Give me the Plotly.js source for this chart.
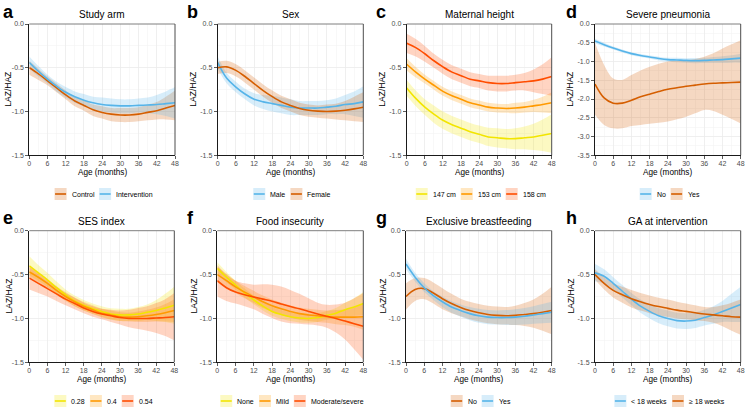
<!DOCTYPE html>
<html><head><meta charset="utf-8">
<script src="https://cdn.plot.ly/plotly-3.0.1.min.js"></script>
<style>html,body{margin:0;padding:0;background:#fff}#chart{width:747px;height:410px}</style>
</head><body><div id="chart"></div>
<script>
// ---------- data ----------
const ageMonths = [0,3,6,9,12,15,18,21,24,27,30,33,36,39,42,45,48];
const xTickVals = [0,6,12,18,24,30,36,42,48];
const xMinorVals = [3,9,15,21,27,33,39,45];
const yTickVals = [0,-0.5,-1,-1.5];
const yTickText = ['0.0','-0.5','-1.0','-1.5'];
const yMinorVals = [-0.25,-0.75,-1.25];
const yTickValsD = [0,-0.5,-1,-1.5,-2,-2.5,-3,-3.5];
const yTickTextD = ['0.0','-0.5','-1.0','-1.5','-2.0','-2.5','-3.0','-3.5'];
const yMinorValsD = [-0.25,-0.75,-1.25,-1.75,-2.25,-2.75,-3.25];

// a Study arm
const armControl   = [-0.50,-0.57,-0.65,-0.73,-0.81,-0.88,-0.93,-0.98,-1.01,-1.03,-1.04,-1.04,-1.03,-1.01,-0.99,-0.96,-0.93];
const armControlHi = [-0.42,-0.51,-0.60,-0.68,-0.76,-0.83,-0.87,-0.92,-0.94,-0.96,-0.96,-0.96,-0.95,-0.92,-0.89,-0.83,-0.76];
const armControlLo = [-0.58,-0.64,-0.70,-0.78,-0.86,-0.94,-0.99,-1.05,-1.08,-1.11,-1.12,-1.12,-1.11,-1.10,-1.09,-1.09,-1.10];
const armInterv    = [-0.44,-0.54,-0.63,-0.71,-0.78,-0.83,-0.87,-0.90,-0.92,-0.93,-0.935,-0.935,-0.93,-0.925,-0.92,-0.91,-0.90];
const armIntervHi  = [-0.37,-0.48,-0.58,-0.66,-0.72,-0.77,-0.80,-0.83,-0.84,-0.85,-0.86,-0.86,-0.85,-0.84,-0.81,-0.77,-0.72];
const armIntervLo  = [-0.51,-0.60,-0.68,-0.77,-0.84,-0.90,-0.94,-0.98,-1.00,-1.01,-1.02,-1.02,-1.01,-1.02,-1.03,-1.05,-1.08];

// b Sex
const sexMale     = [-0.44,-0.62,-0.72,-0.80,-0.86,-0.89,-0.91,-0.93,-0.95,-0.96,-0.96,-0.96,-0.95,-0.94,-0.92,-0.91,-0.89];
const sexMaleHi   = [-0.37,-0.56,-0.66,-0.74,-0.79,-0.81,-0.82,-0.84,-0.86,-0.88,-0.88,-0.88,-0.87,-0.85,-0.81,-0.77,-0.71];
const sexMaleLo   = [-0.51,-0.68,-0.78,-0.86,-0.93,-0.97,-1.00,-1.02,-1.04,-1.04,-1.04,-1.04,-1.03,-1.03,-1.03,-1.05,-1.07];
const sexFemale   = [-0.50,-0.49,-0.53,-0.60,-0.68,-0.76,-0.83,-0.89,-0.93,-0.965,-0.985,-0.995,-1.00,-0.995,-0.985,-0.97,-0.95];
const sexFemaleHi = [-0.43,-0.42,-0.46,-0.53,-0.61,-0.69,-0.76,-0.82,-0.86,-0.90,-0.92,-0.93,-0.92,-0.91,-0.88,-0.83,-0.78];
const sexFemaleLo = [-0.57,-0.56,-0.60,-0.67,-0.75,-0.83,-0.90,-0.96,-1.00,-1.04,-1.06,-1.07,-1.08,-1.09,-1.10,-1.11,-1.12];

// c Maternal height
const ht147   = [-0.73,-0.85,-0.95,-1.03,-1.10,-1.15,-1.19,-1.23,-1.26,-1.29,-1.30,-1.31,-1.31,-1.30,-1.29,-1.27,-1.25];
const ht147Hi = [-0.64,-0.76,-0.86,-0.93,-1.00,-1.05,-1.09,-1.13,-1.16,-1.185,-1.19,-1.20,-1.19,-1.17,-1.14,-1.09,-1.03];
const ht147Lo = [-0.82,-0.94,-1.04,-1.13,-1.20,-1.25,-1.29,-1.33,-1.36,-1.395,-1.41,-1.42,-1.43,-1.43,-1.44,-1.45,-1.47];
const ht153   = [-0.46,-0.55,-0.63,-0.70,-0.77,-0.82,-0.86,-0.90,-0.925,-0.95,-0.96,-0.965,-0.96,-0.95,-0.935,-0.92,-0.90];
const ht153Hi = [-0.39,-0.49,-0.58,-0.65,-0.72,-0.77,-0.81,-0.85,-0.875,-0.90,-0.91,-0.915,-0.90,-0.89,-0.865,-0.83,-0.78];
const ht153Lo = [-0.53,-0.61,-0.68,-0.75,-0.82,-0.87,-0.91,-0.95,-0.975,-1.00,-1.01,-1.015,-1.02,-1.01,-1.005,-1.01,-1.02];
const ht158   = [-0.22,-0.27,-0.34,-0.42,-0.49,-0.55,-0.59,-0.63,-0.65,-0.67,-0.68,-0.68,-0.67,-0.66,-0.65,-0.63,-0.60];
const ht158Hi = [-0.11,-0.17,-0.25,-0.34,-0.41,-0.47,-0.51,-0.55,-0.57,-0.59,-0.59,-0.59,-0.58,-0.56,-0.52,-0.46,-0.38];
const ht158Lo = [-0.33,-0.37,-0.43,-0.50,-0.57,-0.63,-0.67,-0.71,-0.73,-0.76,-0.77,-0.77,-0.76,-0.76,-0.78,-0.80,-0.82];

// d Severe pneumonia
const pnNo    = [-0.45,-0.55,-0.64,-0.72,-0.79,-0.84,-0.88,-0.92,-0.95,-0.96,-0.97,-0.975,-0.97,-0.96,-0.95,-0.93,-0.91];
const pnNoHi  = [-0.39,-0.50,-0.60,-0.68,-0.75,-0.80,-0.84,-0.87,-0.90,-0.90,-0.91,-0.905,-0.90,-0.88,-0.86,-0.83,-0.79];
const pnNoLo  = [-0.51,-0.60,-0.68,-0.76,-0.83,-0.88,-0.92,-0.97,-1.00,-1.02,-1.03,-1.045,-1.04,-1.04,-1.04,-1.03,-1.03];
const pnYes   = [-1.60,-1.97,-2.11,-2.11,-2.03,-1.94,-1.87,-1.80,-1.74,-1.70,-1.66,-1.63,-1.60,-1.58,-1.57,-1.56,-1.55];
const pnYesHi = [-0.50,-1.09,-1.45,-1.49,-1.36,-1.24,-1.14,-1.06,-1.00,-0.98,-0.96,-0.93,-0.87,-0.78,-0.65,-0.54,-0.43];
const pnYesLo = [-2.42,-2.69,-2.78,-2.78,-2.72,-2.69,-2.66,-2.63,-2.60,-2.54,-2.47,-2.38,-2.29,-2.32,-2.42,-2.53,-2.65];

// e SES index
const ses28   = [-0.40,-0.48,-0.56,-0.65,-0.73,-0.80,-0.85,-0.89,-0.92,-0.95,-0.96,-0.96,-0.95,-0.93,-0.91,-0.88,-0.85];
const ses28Hi = [-0.29,-0.39,-0.48,-0.58,-0.67,-0.74,-0.79,-0.83,-0.86,-0.885,-0.89,-0.89,-0.87,-0.84,-0.79,-0.72,-0.64];
const ses28Lo = [-0.51,-0.57,-0.64,-0.72,-0.79,-0.86,-0.91,-0.95,-0.98,-1.015,-1.03,-1.03,-1.03,-1.02,-1.03,-1.04,-1.06];
const ses40   = [-0.47,-0.53,-0.60,-0.68,-0.75,-0.81,-0.86,-0.90,-0.94,-0.96,-0.98,-0.985,-0.98,-0.97,-0.955,-0.935,-0.91];
const ses40Hi = [-0.40,-0.47,-0.55,-0.63,-0.70,-0.76,-0.81,-0.85,-0.89,-0.91,-0.93,-0.935,-0.92,-0.90,-0.875,-0.835,-0.78];
const ses40Lo = [-0.54,-0.59,-0.65,-0.73,-0.80,-0.86,-0.91,-0.95,-0.99,-1.01,-1.03,-1.035,-1.04,-1.04,-1.035,-1.035,-1.04];
const ses54   = [-0.54,-0.60,-0.66,-0.72,-0.78,-0.83,-0.88,-0.92,-0.95,-0.97,-0.99,-1.00,-1.00,-1.00,-0.995,-0.99,-0.98];
const ses54Hi = [-0.41,-0.49,-0.57,-0.64,-0.71,-0.765,-0.82,-0.86,-0.89,-0.90,-0.91,-0.90,-0.88,-0.86,-0.825,-0.78,-0.71];
const ses54Lo = [-0.67,-0.71,-0.75,-0.80,-0.85,-0.895,-0.94,-0.98,-1.01,-1.04,-1.07,-1.10,-1.12,-1.14,-1.165,-1.20,-1.25];

// f Food insecurity
const fiNone   = [-0.43,-0.53,-0.62,-0.71,-0.79,-0.86,-0.92,-0.955,-0.98,-0.995,-1.00,-0.99,-0.965,-0.94,-0.90,-0.87,-0.83];
const fiNoneHi = [-0.36,-0.47,-0.57,-0.66,-0.74,-0.81,-0.87,-0.905,-0.93,-0.945,-0.95,-0.94,-0.915,-0.88,-0.82,-0.77,-0.70];
const fiNoneLo = [-0.50,-0.59,-0.67,-0.76,-0.84,-0.91,-0.97,-1.005,-1.03,-1.045,-1.05,-1.04,-1.015,-1.00,-0.98,-0.97,-0.96];
const fiMild   = [-0.50,-0.57,-0.64,-0.70,-0.755,-0.81,-0.855,-0.89,-0.92,-0.945,-0.96,-0.97,-0.98,-0.985,-0.985,-0.985,-0.98];
const fiMildHi = [-0.41,-0.49,-0.57,-0.63,-0.685,-0.74,-0.785,-0.82,-0.85,-0.875,-0.89,-0.90,-0.91,-0.905,-0.895,-0.875,-0.83];
const fiMildLo = [-0.59,-0.65,-0.71,-0.77,-0.825,-0.88,-0.925,-0.96,-0.99,-1.015,-1.03,-1.04,-1.05,-1.065,-1.075,-1.095,-1.13];
const fiMod    = [-0.57,-0.65,-0.70,-0.73,-0.755,-0.78,-0.805,-0.835,-0.865,-0.89,-0.92,-0.95,-0.975,-1.00,-1.03,-1.06,-1.09];
const fiModHi  = [-0.39,-0.50,-0.57,-0.60,-0.615,-0.61,-0.615,-0.635,-0.675,-0.72,-0.77,-0.82,-0.845,-0.84,-0.82,-0.77,-0.71];
const fiModLo  = [-0.75,-0.80,-0.83,-0.86,-0.895,-0.95,-0.995,-1.035,-1.055,-1.06,-1.07,-1.08,-1.105,-1.16,-1.24,-1.35,-1.47];

// g Exclusive breastfeeding
const ebfNo    = [-0.75,-0.67,-0.66,-0.71,-0.775,-0.83,-0.875,-0.91,-0.935,-0.955,-0.965,-0.97,-0.965,-0.955,-0.945,-0.93,-0.91];
const ebfNoHi  = [-0.60,-0.54,-0.54,-0.59,-0.655,-0.72,-0.775,-0.81,-0.835,-0.855,-0.865,-0.87,-0.855,-0.825,-0.785,-0.72,-0.64];
const ebfNoLo  = [-0.90,-0.80,-0.78,-0.83,-0.895,-0.94,-0.975,-1.01,-1.035,-1.055,-1.065,-1.07,-1.075,-1.085,-1.105,-1.14,-1.18];
const ebfYes   = [-0.38,-0.53,-0.65,-0.74,-0.81,-0.87,-0.91,-0.945,-0.97,-0.985,-0.99,-0.99,-0.985,-0.975,-0.96,-0.945,-0.93];
const ebfYesHi = [-0.32,-0.48,-0.60,-0.69,-0.75,-0.805,-0.84,-0.87,-0.89,-0.905,-0.91,-0.905,-0.895,-0.88,-0.86,-0.835,-0.81];
const ebfYesLo = [-0.44,-0.58,-0.70,-0.79,-0.87,-0.935,-0.98,-1.02,-1.05,-1.065,-1.07,-1.075,-1.075,-1.07,-1.06,-1.055,-1.05];

// h GA at intervention
const gaLt18   = [-0.48,-0.52,-0.60,-0.69,-0.78,-0.86,-0.92,-0.97,-1.00,-1.025,-1.03,-1.02,-0.99,-0.96,-0.92,-0.88,-0.84];
const gaLt18Hi = [-0.38,-0.44,-0.53,-0.62,-0.71,-0.785,-0.84,-0.885,-0.91,-0.935,-0.94,-0.93,-0.90,-0.86,-0.80,-0.72,-0.64];
const gaLt18Lo = [-0.58,-0.60,-0.67,-0.76,-0.85,-0.935,-1.00,-1.055,-1.09,-1.115,-1.12,-1.11,-1.08,-1.06,-1.04,-1.04,-1.04];
const gaGe18   = [-0.50,-0.60,-0.68,-0.73,-0.775,-0.81,-0.84,-0.865,-0.885,-0.905,-0.92,-0.935,-0.95,-0.96,-0.97,-0.98,-0.985];
const gaGe18Hi = [-0.44,-0.53,-0.60,-0.64,-0.675,-0.71,-0.74,-0.765,-0.785,-0.81,-0.83,-0.85,-0.87,-0.87,-0.85,-0.82,-0.785];
const gaGe18Lo = [-0.56,-0.67,-0.76,-0.82,-0.875,-0.91,-0.94,-0.965,-0.985,-1.00,-1.01,-1.02,-1.03,-1.05,-1.09,-1.14,-1.185];

// ---------- styling ----------
const SKY = '#56B4E9', VERM = '#D55E00', YEL = '#F2E500', ORG = '#FF9A00', RED = '#FF4D00';
const FONT = 'Liberation Sans, Arial, Helvetica, sans-serif';
const W = 747, H = 410;
const ALPHA = 0.24;

const panels = [
  {letter:'a', title:'Study arm', box:[29.3,24,175,155.3], ytx:8, d:false, series:[
    {name:'Control', color:VERM, m:armControl, lo:armControlLo, hi:armControlHi},
    {name:'Intervention', color:SKY, m:armInterv, lo:armIntervLo, hi:armIntervHi}]},
  {letter:'b', title:'Sex', box:[217.7,24,363.3,155.3], ytx:193, d:false, series:[
    {name:'Male', color:SKY, m:sexMale, lo:sexMaleLo, hi:sexMaleHi},
    {name:'Female', color:VERM, m:sexFemale, lo:sexFemaleLo, hi:sexFemaleHi}]},
  {letter:'c', title:'Maternal height', box:[406.7,24,551.7,155.3], ytx:382, d:false, series:[
    {name:'147 cm', color:YEL, m:ht147, lo:ht147Lo, hi:ht147Hi},
    {name:'153 cm', color:ORG, m:ht153, lo:ht153Lo, hi:ht153Hi},
    {name:'158 cm', color:RED, m:ht158, lo:ht158Lo, hi:ht158Hi}]},
  {letter:'d', title:'Severe pneumonia', box:[595,24,740.7,155.3], ytx:570, d:true, series:[
    {name:'No', color:SKY, m:pnNo, lo:pnNoLo, hi:pnNoHi},
    {name:'Yes', color:VERM, m:pnYes, lo:pnYesLo, hi:pnYesHi}]},
  {letter:'e', title:'SES index', box:[29.3,230.7,174.3,362.3], ytx:8, d:false, series:[
    {name:'0.28', color:YEL, m:ses28, lo:ses28Lo, hi:ses28Hi},
    {name:'0.4', color:ORG, m:ses40, lo:ses40Lo, hi:ses40Hi},
    {name:'0.54', color:RED, m:ses54, lo:ses54Lo, hi:ses54Hi}]},
  {letter:'f', title:'Food insecurity', box:[217.3,230.7,363.3,362.3], ytx:193, d:false, series:[
    {name:'None', color:YEL, m:fiNone, lo:fiNoneLo, hi:fiNoneHi},
    {name:'Mild', color:ORG, m:fiMild, lo:fiMildLo, hi:fiMildHi},
    {name:'Moderate/severe', color:RED, m:fiMod, lo:fiModLo, hi:fiModHi}]},
  {letter:'g', title:'Exclusive breastfeeding', box:[406,230.7,551.7,362.3], ytx:382, d:false, series:[
    {name:'No', color:VERM, m:ebfNo, lo:ebfNoLo, hi:ebfNoHi},
    {name:'Yes', color:SKY, m:ebfYes, lo:ebfYesLo, hi:ebfYesHi}]},
  {letter:'h', title:'GA at intervention', box:[595,230.7,740.7,362.3], ytx:570, d:false, series:[
    {name:'< 18 weeks', color:SKY, m:gaLt18, lo:gaLt18Lo, hi:gaLt18Hi},
    {name:'\u2265 18 weeks', color:VERM, m:gaGe18, lo:gaGe18Lo, hi:gaGe18Hi}]}
];

function rgba(hex, a){
  const n = parseInt(hex.slice(1),16);
  return 'rgba('+((n>>16)&255)+','+((n>>8)&255)+','+(n&255)+','+a+')';
}
const px = v => v / W;
const py = v => 1 - v / H;

const ctx = document.createElement('canvas').getContext('2d');
ctx.font = '7px "Liberation Sans"';
const tw = s => ctx.measureText(s).width;

const traces = [], shapes = [], annotations = [];
const layout = {
  width: W, height: H, margin:{l:0,r:0,t:0,b:0},
  paper_bgcolor:'#fff', plot_bgcolor:'#fff', showlegend:false,
  font:{family:FONT, color:'#000'}
};

panels.forEach((p, i) => {
  const s = i === 0 ? '' : String(i+1);
  const xa = 'x' + s, ya = 'y' + s;
  const [l, t, r, b] = p.box;
  p.series.forEach(se => {
    traces.push({x:ageMonths, y:se.hi, xaxis:xa, yaxis:ya, mode:'lines',
      line:{width:0, shape:'spline', smoothing:1}, hoverinfo:'skip', showlegend:false});
    traces.push({x:ageMonths, y:se.lo, xaxis:xa, yaxis:ya, mode:'lines', fill:'tonexty',
      fillcolor:rgba(se.color, ALPHA), line:{width:0, shape:'spline', smoothing:1}, hoverinfo:'skip', showlegend:false});
  });
  p.series.forEach(se => {
    traces.push({x:ageMonths, y:se.m, xaxis:xa, yaxis:ya, mode:'lines', name:se.name,
      line:{color:se.color, width:1.6, shape:'spline', smoothing:1}, showlegend:false});
  });
  const common = {ticks:'outside', ticklen:3, tickwidth:0.8, tickcolor:'#333333',
    tickfont:{size:7, color:'#4D4D4D', family:FONT}, showline:true, linecolor:'#1A1A1A', linewidth:1,
    showgrid:true, gridcolor:'#EBEBEB', gridwidth:0.8, zeroline:false, fixedrange:true};
  layout['xaxis' + s] = Object.assign({}, common, {
    domain:[px(l), px(r)], anchor:ya, range:[0,48], tickmode:'array', tickvals:xTickVals,
    ticktext:xTickVals.map(String), ticklabelstandoff:-2,
    minor:{tickmode:'array', tickvals:xMinorVals, showgrid:true, gridcolor:'#F4F4F4', gridwidth:0.6, ticks:''}
  });
  layout['yaxis' + s] = Object.assign({}, common, {
    domain:[py(b), py(t)], anchor:xa, range:p.d ? [-3.5,0] : [-1.5,0], tickmode:'array',
    tickvals:p.d ? yTickValsD : yTickVals, ticktext:p.d ? yTickTextD : yTickText,
    minor:{tickmode:'array', tickvals:p.d ? yMinorValsD : yMinorVals, showgrid:true, gridcolor:'#F4F4F4', gridwidth:0.6, ticks:''}
  });
  shapes.push({type:'line', xref:'paper', yref:'paper', x0:px(l), x1:px(r), y0:py(t), y1:py(t), line:{color:'#7F7F7F', width:1}});
  shapes.push({type:'line', xref:'paper', yref:'paper', x0:px(r), x1:px(r), y0:py(t), y1:py(b), line:{color:'#4D4D4D', width:1}});
  annotations.push({xref:'paper', yref:'paper', x:px((l+r)/2), y:py(t-9.3), xanchor:'center', yanchor:'middle',
    text:p.title, showarrow:false, borderpad:0, font:{size:10, color:'#000', family:FONT}});
  annotations.push({xref:'paper', yref:'paper', x:px(i%4===0 ? 1.5 : (i%4===3 ? 564.5 : l-31.5)), y:py(t-12.5), xanchor:'left', yanchor:'middle',
    text:'<b>'+p.letter+'</b>', showarrow:false, borderpad:0, font:{size:18, color:'#000', family:FONT}});
  annotations.push({xref:'paper', yref:'paper', x:px(p.ytx), y:py((t+b)/2), xanchor:'center', yanchor:'middle',
    text:'LAZ/HAZ', textangle:-90, showarrow:false, borderpad:0, font:{size:8.5, color:'#000', family:FONT}});
  annotations.push({xref:'paper', yref:'paper', x:px((l+r)/2), y:py(b+17.3), xanchor:'center', yanchor:'middle',
    text:'Age (months)', showarrow:false, borderpad:0, font:{size:8.2, color:'#000', family:FONT}});
  const key = 12, gapTxt = 4, gapItem = 6;
  const widths = p.series.map(se => key + gapTxt + tw(se.name));
  const total = widths.reduce((a,c)=>a+c,0) + gapItem*(p.series.length-1);
  let x0 = (l + r)/2 - total/2 + 1;
  const ly = b + 38.7;
  p.series.forEach((se, k) => {
    shapes.push({type:'rect', xref:'paper', yref:'paper', x0:px(x0), x1:px(x0+key), y0:py(ly+key/2), y1:py(ly-key/2),
      fillcolor:rgba(se.color,ALPHA), line:{width:0}});
    shapes.push({type:'line', xref:'paper', yref:'paper', x0:px(x0+0.5), x1:px(x0+key-0.5), y0:py(ly), y1:py(ly),
      line:{color:se.color, width:1.6}});
    annotations.push({xref:'paper', yref:'paper', x:px(x0+key+gapTxt), y:py(ly), xanchor:'left', yanchor:'middle',
      text:se.name, showarrow:false, borderpad:0, font:{size:7, color:'#000', family:FONT}});
    x0 += widths[k] + gapItem;
  });
});
layout.shapes = shapes;
layout.annotations = annotations;
Plotly.newPlot('chart', traces, layout, {displayModeBar:false, staticPlot:true});
</script>
</body></html>
